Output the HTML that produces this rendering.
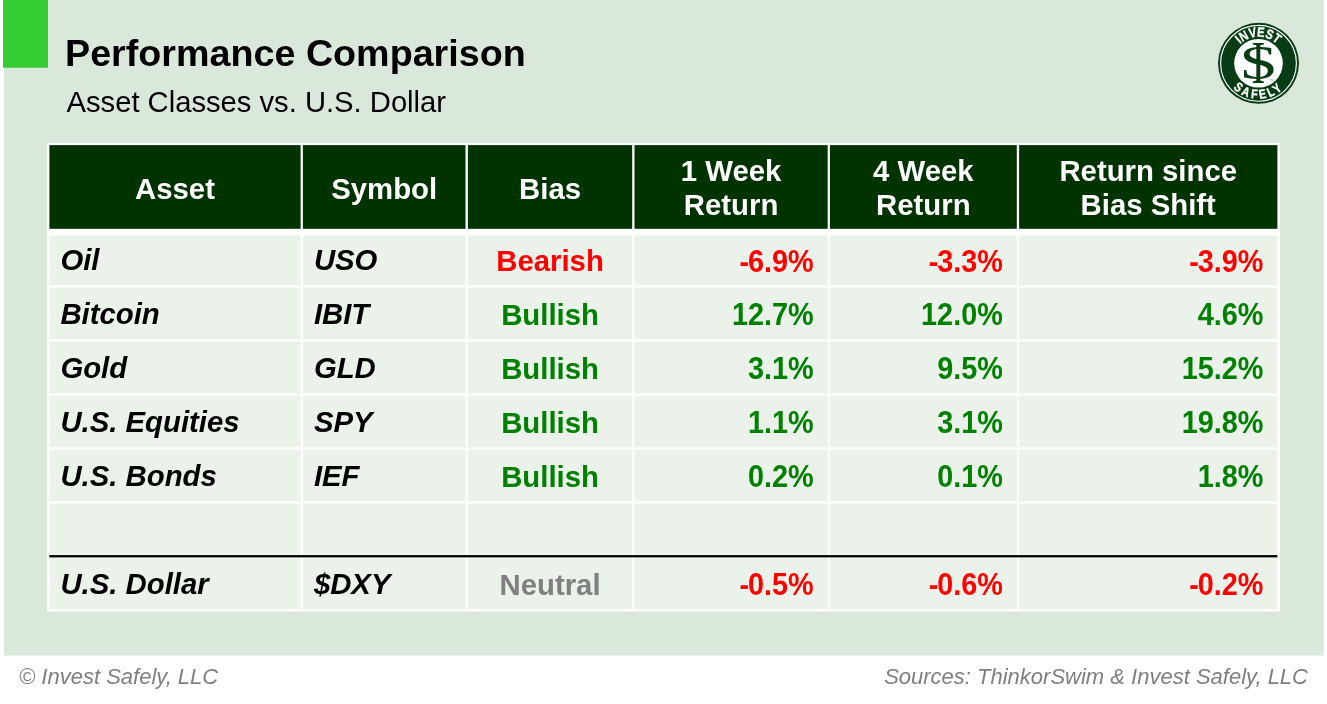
<!DOCTYPE html>
<html lang="en">
<head>
<meta charset="utf-8">
<title>Performance Comparison</title>
<style>
  html, body { margin: 0; padding: 0; }
  body {
    width: 1327px; height: 704px; overflow: hidden; position: relative;
    background: #ffffff;
    font-family: "Liberation Sans", sans-serif;
    color: #000;
  }
  .bg { position: absolute; left: 0; top: 0; }
  .title { position: absolute; left: 65px; top: 32px; font-size: 37.7px; font-weight: bold; line-height: 43px; white-space: nowrap; }
  .subtitle { position: absolute; left: 66.5px; top: 87px; font-size: 29.2px; line-height: 31px; white-space: nowrap; }
  .tbl { position: absolute; left: 47.2px; top: 143px; width: 1232.8px; height: 468.5px; }
  .c { position: absolute; box-sizing: border-box; white-space: nowrap; font-size: 29.33px; font-weight: bold; }
  .h { color: #fff; text-align: center; top: 2px; height: 84px; line-height: 34.4px; display: flex; align-items: center; justify-content: center; }
  .d { height: 50px; line-height: 50px; }
  .a { font-style: italic; padding-left: 11px; }
  .c span { position: relative; }
  .n span { display: inline-block; transform: scaleY(1.06); transform-origin: 50% 69.5%; }
  .m { font-style: normal; margin-right: -1.2px; }
  .b { text-align: center; }
  .n { text-align: right; padding-right: 14px; font-size: 28.8px; }
  .red { color: #ff0000; } .grn { color: #008000; } .gry { color: #808080; }
  .foot { position: absolute; top: 664px; font-size: 22px; font-style: italic; color: #7f7f7f; line-height: 26px; white-space: nowrap; }
  .logo { position: absolute; left: 1213px; top: 18px; width: 92px; height: 92px; }
</style>
</head>
<body>
<svg class="bg" width="1327" height="704" viewBox="0 0 1327 704">
<rect x="4" y="0" width="1319.75" height="655.5" fill="#dae8dc"/>
<rect x="3" y="0" width="45" height="67.7" fill="#33cc33"/>
<rect x="47.2" y="143" width="1232.8" height="468.5" fill="#ffffff"/>
<rect x="49.4" y="145.1" width="251.2" height="83.7" fill="#003300"/>
<rect x="302.9" y="145.1" width="162.6" height="83.7" fill="#003300"/>
<rect x="467.9" y="145.1" width="164.3" height="83.7" fill="#003300"/>
<rect x="634.5" y="145.1" width="193.15" height="83.7" fill="#003300"/>
<rect x="829.9" y="145.1" width="186.9" height="83.7" fill="#003300"/>
<rect x="1019.1" y="145.1" width="258.3" height="83.7" fill="#003300"/>
<rect x="49.4" y="235.5" width="251.2" height="49.9" fill="#eaf2ea"/>
<rect x="302.9" y="235.5" width="162.6" height="49.9" fill="#eaf2ea"/>
<rect x="467.9" y="235.5" width="164.3" height="49.9" fill="#eaf2ea"/>
<rect x="634.5" y="235.5" width="193.15" height="49.9" fill="#eaf2ea"/>
<rect x="829.9" y="235.5" width="186.9" height="49.9" fill="#eaf2ea"/>
<rect x="1019.1" y="235.5" width="258.3" height="49.9" fill="#eaf2ea"/>
<rect x="49.4" y="287.6" width="251.2" height="51.8" fill="#eaf2ea"/>
<rect x="302.9" y="287.6" width="162.6" height="51.8" fill="#eaf2ea"/>
<rect x="467.9" y="287.6" width="164.3" height="51.8" fill="#eaf2ea"/>
<rect x="634.5" y="287.6" width="193.15" height="51.8" fill="#eaf2ea"/>
<rect x="829.9" y="287.6" width="186.9" height="51.8" fill="#eaf2ea"/>
<rect x="1019.1" y="287.6" width="258.3" height="51.8" fill="#eaf2ea"/>
<rect x="49.4" y="341.6" width="251.2" height="51.8" fill="#eaf2ea"/>
<rect x="302.9" y="341.6" width="162.6" height="51.8" fill="#eaf2ea"/>
<rect x="467.9" y="341.6" width="164.3" height="51.8" fill="#eaf2ea"/>
<rect x="634.5" y="341.6" width="193.15" height="51.8" fill="#eaf2ea"/>
<rect x="829.9" y="341.6" width="186.9" height="51.8" fill="#eaf2ea"/>
<rect x="1019.1" y="341.6" width="258.3" height="51.8" fill="#eaf2ea"/>
<rect x="49.4" y="395.6" width="251.2" height="51.8" fill="#eaf2ea"/>
<rect x="302.9" y="395.6" width="162.6" height="51.8" fill="#eaf2ea"/>
<rect x="467.9" y="395.6" width="164.3" height="51.8" fill="#eaf2ea"/>
<rect x="634.5" y="395.6" width="193.15" height="51.8" fill="#eaf2ea"/>
<rect x="829.9" y="395.6" width="186.9" height="51.8" fill="#eaf2ea"/>
<rect x="1019.1" y="395.6" width="258.3" height="51.8" fill="#eaf2ea"/>
<rect x="49.4" y="449.6" width="251.2" height="51.8" fill="#eaf2ea"/>
<rect x="302.9" y="449.6" width="162.6" height="51.8" fill="#eaf2ea"/>
<rect x="467.9" y="449.6" width="164.3" height="51.8" fill="#eaf2ea"/>
<rect x="634.5" y="449.6" width="193.15" height="51.8" fill="#eaf2ea"/>
<rect x="829.9" y="449.6" width="186.9" height="51.8" fill="#eaf2ea"/>
<rect x="1019.1" y="449.6" width="258.3" height="51.8" fill="#eaf2ea"/>
<rect x="49.4" y="503.6" width="251.2" height="51" fill="#eaf2ea"/>
<rect x="302.9" y="503.6" width="162.6" height="51" fill="#eaf2ea"/>
<rect x="467.9" y="503.6" width="164.3" height="51" fill="#eaf2ea"/>
<rect x="634.5" y="503.6" width="193.15" height="51" fill="#eaf2ea"/>
<rect x="829.9" y="503.6" width="186.9" height="51" fill="#eaf2ea"/>
<rect x="1019.1" y="503.6" width="258.3" height="51" fill="#eaf2ea"/>
<rect x="49.4" y="557.9" width="251.2" height="51.5" fill="#eaf2ea"/>
<rect x="302.9" y="557.9" width="162.6" height="51.5" fill="#eaf2ea"/>
<rect x="467.9" y="557.9" width="164.3" height="51.5" fill="#eaf2ea"/>
<rect x="634.5" y="557.9" width="193.15" height="51.5" fill="#eaf2ea"/>
<rect x="829.9" y="557.9" width="186.9" height="51.5" fill="#eaf2ea"/>
<rect x="1019.1" y="557.9" width="258.3" height="51.5" fill="#eaf2ea"/>
<rect x="49.3" y="555.1" width="1228.1" height="2.3" fill="#000000"/>
</svg>
<div class="title">Performance Comparison</div>
<div class="subtitle">Asset Classes vs. U.S. Dollar</div>

<svg class="logo" viewBox="0 0 92 92">
  <defs>
    <path id="arcTop" d="M 19 45.3 A 26.5 26.5 0 0 1 72 45.3"/>
    <path id="arcBot" d="M 10.1 45.3 A 35.4 35.4 0 0 0 80.9 45.3"/>
  </defs>
  <circle cx="45.5" cy="45.3" r="40.5" fill="#083c14"/>
  <circle cx="45.5" cy="45.3" r="37.9" fill="none" stroke="#ffffff" stroke-width="1.15"/>
  <circle cx="45.5" cy="45.3" r="24.3" fill="#ffffff"/>
  <text font-family="'Liberation Sans', sans-serif" font-weight="bold" font-size="13.4" fill="#ffffff" stroke="#ffffff" stroke-width="0.3" text-anchor="middle"><textPath href="#arcTop" startOffset="50%" textLength="40.7" lengthAdjust="spacingAndGlyphs">INVEST</textPath></text>
  <text font-family="'Liberation Sans', sans-serif" font-weight="bold" font-size="13" letter-spacing="3.3" fill="#ffffff" stroke="#ffffff" stroke-width="0.35" text-anchor="middle"><textPath href="#arcBot" startOffset="50.4%" textLength="57" lengthAdjust="spacingAndGlyphs">SAFELY</textPath></text>
  <text x="0" y="0" transform="translate(45.3 64.6) scale(0.7 1)" font-family="'Liberation Serif', serif" font-size="60.5" fill="#083c14" text-anchor="middle">I</text>
  <text x="0" y="0" transform="translate(45.6 61) scale(1.46 1)" font-family="'Liberation Serif', serif" font-size="47.6" fill="#083c14" text-anchor="middle">S</text>
  <text x="57" y="63.6" font-family="'Liberation Sans', sans-serif" font-size="2.6" fill="#7a8f7d">TM</text>
</svg>

<div class="tbl" id="tbl">
<div class="c h" style="left:2.2px;top:2.1px;width:251.2px;height:83.7px"><span style="top:2px">Asset</span></div>
<div class="c h" style="left:255.7px;top:2.1px;width:162.6px;height:83.7px"><span style="top:2px">Symbol</span></div>
<div class="c h" style="left:420.7px;top:2.1px;width:164.3px;height:83.7px"><span style="top:2px">Bias</span></div>
<div class="c h" style="left:587.3px;top:2.1px;width:193.15px;height:83.7px"><span style="top:1.5px">1 Week<br>Return</span></div>
<div class="c h" style="left:782.7px;top:2.1px;width:186.9px;height:83.7px"><span style="top:1.5px">4 Week<br>Return</span></div>
<div class="c h" style="left:971.9px;top:2.1px;width:258.3px;height:83.7px"><span style="top:1.5px">Return since<br>Bias Shift</span></div>
<div class="c d a " style="left:2.2px;top:92.5px;width:251.2px;height:49.9px;line-height:49.9px"><span style="top:-0.25px">Oil</span></div>
<div class="c d a sy " style="left:255.7px;top:92.5px;width:162.6px;height:49.9px;line-height:49.9px"><span style="top:-0.25px">USO</span></div>
<div class="c d b red" style="left:420.7px;top:92.5px;width:164.3px;height:49.9px;line-height:49.9px"><span style="top:0.75px">Bearish</span></div>
<div class="c d n red" style="left:587.3px;top:92.5px;width:193.15px;height:49.9px;line-height:49.9px"><span style="top:2.25px"><i class="m">-</i>6.9%</span></div>
<div class="c d n red" style="left:782.7px;top:92.5px;width:186.9px;height:49.9px;line-height:49.9px"><span style="top:2.25px"><i class="m">-</i>3.3%</span></div>
<div class="c d n red" style="left:971.9px;top:92.5px;width:258.3px;height:49.9px;line-height:49.9px"><span style="top:2.25px"><i class="m">-</i>3.9%</span></div>
<div class="c d a " style="left:2.2px;top:144.6px;width:251.2px;height:51.8px;line-height:51.8px"><span style="top:0px">Bitcoin</span></div>
<div class="c d a sy " style="left:255.7px;top:144.6px;width:162.6px;height:51.8px;line-height:51.8px"><span style="top:0px">IBIT</span></div>
<div class="c d b grn" style="left:420.7px;top:144.6px;width:164.3px;height:51.8px;line-height:51.8px"><span style="top:1px">Bullish</span></div>
<div class="c d n grn" style="left:587.3px;top:144.6px;width:193.15px;height:51.8px;line-height:51.8px"><span style="top:2.5px">12.7%</span></div>
<div class="c d n grn" style="left:782.7px;top:144.6px;width:186.9px;height:51.8px;line-height:51.8px"><span style="top:2.5px">12.0%</span></div>
<div class="c d n grn" style="left:971.9px;top:144.6px;width:258.3px;height:51.8px;line-height:51.8px"><span style="top:2.5px">4.6%</span></div>
<div class="c d a " style="left:2.2px;top:198.6px;width:251.2px;height:51.8px;line-height:51.8px"><span style="top:0px">Gold</span></div>
<div class="c d a sy " style="left:255.7px;top:198.6px;width:162.6px;height:51.8px;line-height:51.8px"><span style="top:0px">GLD</span></div>
<div class="c d b grn" style="left:420.7px;top:198.6px;width:164.3px;height:51.8px;line-height:51.8px"><span style="top:1px">Bullish</span></div>
<div class="c d n grn" style="left:587.3px;top:198.6px;width:193.15px;height:51.8px;line-height:51.8px"><span style="top:2.5px">3.1%</span></div>
<div class="c d n grn" style="left:782.7px;top:198.6px;width:186.9px;height:51.8px;line-height:51.8px"><span style="top:2.5px">9.5%</span></div>
<div class="c d n grn" style="left:971.9px;top:198.6px;width:258.3px;height:51.8px;line-height:51.8px"><span style="top:2.5px">15.2%</span></div>
<div class="c d a " style="left:2.2px;top:252.6px;width:251.2px;height:51.8px;line-height:51.8px"><span style="top:0px">U.S. Equities</span></div>
<div class="c d a sy " style="left:255.7px;top:252.6px;width:162.6px;height:51.8px;line-height:51.8px"><span style="top:0px">SPY</span></div>
<div class="c d b grn" style="left:420.7px;top:252.6px;width:164.3px;height:51.8px;line-height:51.8px"><span style="top:1px">Bullish</span></div>
<div class="c d n grn" style="left:587.3px;top:252.6px;width:193.15px;height:51.8px;line-height:51.8px"><span style="top:2.5px">1.1%</span></div>
<div class="c d n grn" style="left:782.7px;top:252.6px;width:186.9px;height:51.8px;line-height:51.8px"><span style="top:2.5px">3.1%</span></div>
<div class="c d n grn" style="left:971.9px;top:252.6px;width:258.3px;height:51.8px;line-height:51.8px"><span style="top:2.5px">19.8%</span></div>
<div class="c d a " style="left:2.2px;top:306.6px;width:251.2px;height:51.8px;line-height:51.8px"><span style="top:0px">U.S. Bonds</span></div>
<div class="c d a sy " style="left:255.7px;top:306.6px;width:162.6px;height:51.8px;line-height:51.8px"><span style="top:0px">IEF</span></div>
<div class="c d b grn" style="left:420.7px;top:306.6px;width:164.3px;height:51.8px;line-height:51.8px"><span style="top:1px">Bullish</span></div>
<div class="c d n grn" style="left:587.3px;top:306.6px;width:193.15px;height:51.8px;line-height:51.8px"><span style="top:2.5px">0.2%</span></div>
<div class="c d n grn" style="left:782.7px;top:306.6px;width:186.9px;height:51.8px;line-height:51.8px"><span style="top:2.5px">0.1%</span></div>
<div class="c d n grn" style="left:971.9px;top:306.6px;width:258.3px;height:51.8px;line-height:51.8px"><span style="top:2.5px">1.8%</span></div>
<div class="c d a " style="left:2.2px;top:414.9px;width:251.2px;height:51.5px;line-height:51.5px"><span style="top:0px">U.S. Dollar</span></div>
<div class="c d a sy " style="left:255.7px;top:414.9px;width:162.6px;height:51.5px;line-height:51.5px"><span style="top:0px">&#36;DXY</span></div>
<div class="c d b gry" style="left:420.7px;top:414.9px;width:164.3px;height:51.5px;line-height:51.5px"><span style="top:1px">Neutral</span></div>
<div class="c d n red" style="left:587.3px;top:414.9px;width:193.15px;height:51.5px;line-height:51.5px"><span style="top:2.5px"><i class="m">-</i>0.5%</span></div>
<div class="c d n red" style="left:782.7px;top:414.9px;width:186.9px;height:51.5px;line-height:51.5px"><span style="top:2.5px"><i class="m">-</i>0.6%</span></div>
<div class="c d n red" style="left:971.9px;top:414.9px;width:258.3px;height:51.5px;line-height:51.5px"><span style="top:2.5px"><i class="m">-</i>0.2%</span></div>
</div>

<div class="foot" style="left:19px">© Invest Safely, LLC</div>
<div class="foot" style="right:19px">Sources: ThinkorSwim &amp; Invest Safely, LLC</div>
</body>
</html>
